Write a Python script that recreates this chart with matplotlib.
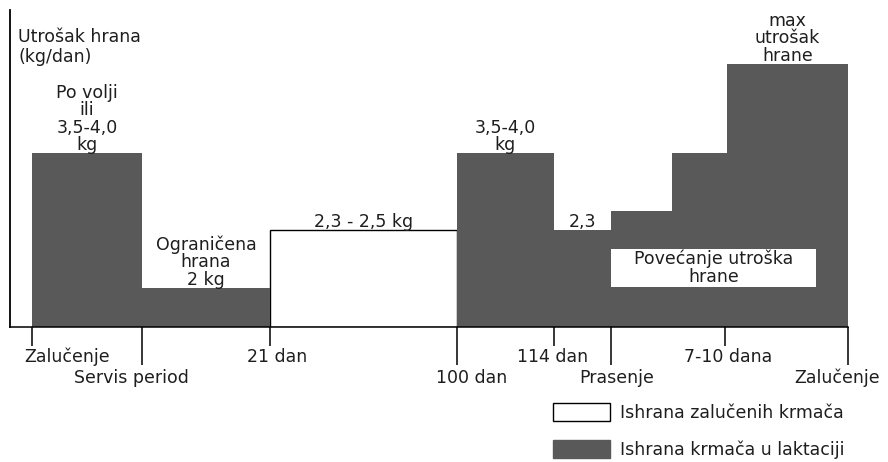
import matplotlib.pyplot as plt
from matplotlib.patches import Patch, Rectangle

# schematic phases of the sow feeding cycle (x in relative units, y in feed level units)
phase_edges = [22, 132, 260, 447, 544, 601, 662, 717, 838]
phase_levels = [4.0, 0.9, 2.23, 4.0, 2.23, 2.67, 4.0, 6.05]
phase_kind = ["lakt", "lakt", "zal", "lakt", "lakt", "lakt", "lakt", "lakt"]
phase_labels = ["Po volji\nili\n3,5-4,0\nkg", "Ograničena\nhrana\n2 kg", "2,3 - 2,5 kg",
                "3,5-4,0\nkg", "2,3", "", "", "max\nutrošak\nhrane"]

long_ticks = [132, 447, 601, 838]
short_ticks = [22, 260, 544, 715]

row1_labels = ["Zalučenje", "21 dan", "114 dan", "7-10 dana"]
row1_pos = [57, 267, 543, 718]
row2_labels = ["Servis period", "100 dan", "Prasenje", "Zalučenje"]
row2_pos = [121, 462, 607, 827]

DARK = "#595959"
TXT = "#1e1e1e"
FS = 12.5

plt.rcParams['font.family'] = ['DejaVu Sans']

fig = plt.figure(figsize=(8.88, 4.62), dpi=100)
ax = fig.add_axes([10 / 888, 135 / 462, 878 / 888, 317 / 462])
ax.set_xlim(0, 878)
ax.set_ylim(0, 317 / 43.5)

for i, lvl in enumerate(phase_levels):
    x0, x1 = phase_edges[i], phase_edges[i + 1]
    if phase_kind[i] == "zal":
        ax.bar(x0, lvl, width=x1 - x0, align='edge', color='white',
               edgecolor='black', linewidth=1.0, zorder=1)
    else:
        ax.bar(x0, lvl, width=x1 - x0, align='edge', color=DARK,
               edgecolor='none', zorder=2)
    if phase_labels[i]:
        ax.text((x0 + x1) / 2, lvl - 0.02, phase_labels[i], ha='center', va='bottom',
                fontsize=FS, color=TXT, linespacing=0.95, zorder=3)

ax.text(8, 6.87, "Utrošak hrana\n(kg/dan)", ha='left', va='top', fontsize=FS,
        color=TXT, linespacing=1.15)

# white label box inside the lactation staircase
box_x0, box_x1, box_y0, box_y1 = phase_edges[5], 806, 0.92, 1.79
ax.add_patch(Rectangle((box_x0, box_y0), box_x1 - box_x0, box_y1 - box_y0,
                       facecolor='white', edgecolor='none', zorder=3))
ax.text((box_x0 + box_x1) / 2, (box_y0 + box_y1) / 2, "Povećanje utroška\nhrane",
        ha='center', va='center', fontsize=FS, color=TXT, linespacing=1.0, zorder=4)

for s in ['top', 'right']:
    ax.spines[s].set_visible(False)
ax.spines['left'].set_linewidth(1.3)
ax.spines['bottom'].set_linewidth(1.1)
ax.spines['bottom'].set_bounds(0, phase_edges[-1])
ax.set_yticks([])
ax.set_xticks(long_ticks)
ax.set_xticks(short_ticks, minor=True)
ax.tick_params(axis='x', which='major', length=27.5, width=1.1, direction='out',
               labelbottom=False, color='black')
ax.tick_params(axis='x', which='minor', length=13.5, width=1.1, direction='out',
               labelbottom=False, color='black')

for lab, x in zip(row1_labels, row1_pos):
    ax.annotate(lab, xy=(x, 0), xycoords=('data', 'axes fraction'), xytext=(0, -30),
                textcoords='offset pixels', ha='center', va='center', fontsize=FS,
                color=TXT, annotation_clip=False)
for lab, x in zip(row2_labels, row2_pos):
    ax.annotate(lab, xy=(x, 0), xycoords=('data', 'axes fraction'), xytext=(0, -51),
                textcoords='offset pixels', ha='center', va='center', fontsize=FS,
                color=TXT, annotation_clip=False)

handles = [Patch(facecolor='white', edgecolor='black', linewidth=1.0),
           Patch(facecolor=DARK, edgecolor=DARK)]
fig.legend(handles, ["Ishrana zalučenih krmača", "Ishrana krmača u laktaciji"],
           loc='upper left', bbox_to_anchor=(553 / 888, 1 - 403 / 462),
           bbox_transform=fig.transFigure, frameon=False, borderpad=0,
           borderaxespad=0, fontsize=FS, handlelength=3.28, handleheight=1.26,
           handletextpad=0.6, labelspacing=1.03, labelcolor=TXT)

fig.savefig("out.png", dpi=100, facecolor='white')
